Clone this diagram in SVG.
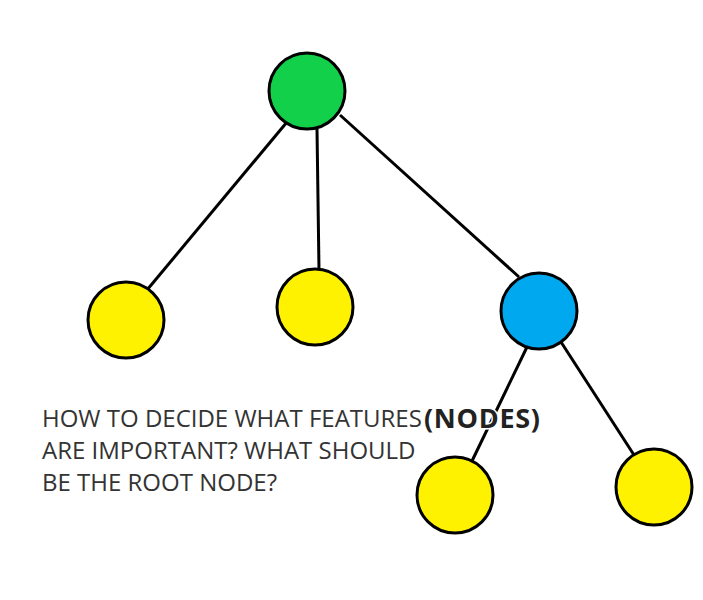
<svg xmlns="http://www.w3.org/2000/svg" width="703" height="600" viewBox="0 0 703 600">
<style>
.n{stroke:#000;stroke-width:3}
.y{fill:#fff200}
.e{stroke:#000;stroke-width:3;fill:none}
.t{font-family:"Open Sans",sans-serif;font-size:24px;fill:#333}
.b{font-family:"Open Sans",sans-serif;font-size:27px;font-weight:700;fill:#222;stroke:#fff;stroke-width:3;paint-order:stroke}
</style>
<rect width="703" height="600" fill="#fff"/>
<g id="connectors">
<line class="e" x1="287" y1="122" x2="147" y2="290"/>
<line class="e" x1="317" y1="129" x2="319" y2="270"/>
<line class="e" x1="340" y1="115" x2="519" y2="277"/>
<line class="e" x1="527" y1="347" x2="472" y2="461"/>
<line class="e" x1="561" y1="342" x2="634" y2="455"/>
</g>
<g id="root"><circle class="n" cx="307" cy="91" r="38" fill="#12d04a"/></g>
<g id="leaf1"><circle class="n y" cx="126" cy="320" r="38"/></g>
<g id="leaf2"><circle class="n y" cx="315" cy="307" r="38"/></g>
<g id="inner"><circle class="n" cx="539" cy="311" r="38" fill="#00a8f0"/></g>
<g id="leaf3"><circle class="n y" cx="455" cy="495" r="38"/></g>
<g id="leaf4"><circle class="n y" cx="654" cy="487" r="38"/></g>
<g id="caption">
<text class="t" x="42" y="427">HOW TO DECIDE WHAT FEATURES</text>
<text class="b" x="424" y="428" textLength="116">(NODES)</text>
<text class="t" x="42" y="459">ARE IMPORTANT? WHAT SHOULD</text>
<text class="t" x="42" y="491">BE THE ROOT NODE?</text>
</g>
</svg>
